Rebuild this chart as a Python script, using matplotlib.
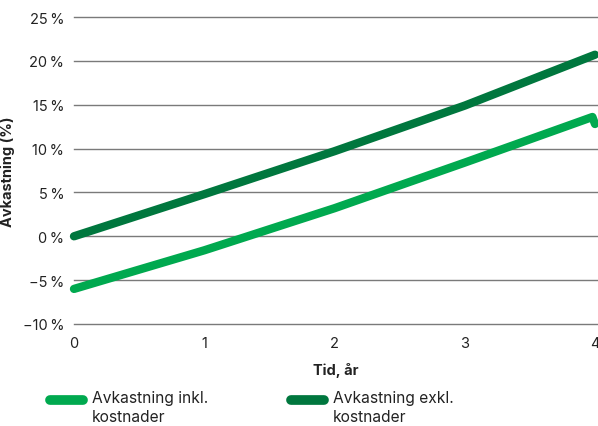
import numpy as np
import matplotlib
matplotlib.use("Agg")
import matplotlib.pyplot as plt
from matplotlib.lines import Line2D

plt.rcParams['font.family'] = ['Inter', 'DejaVu Sans']

# Data
years_incl = [0, 1, 2, 3, 3.98, 4.0]
avk_incl = [-6.0, -1.6, 3.2, 8.4, 13.6, 12.8]
years_excl = [0, 1, 2, 3, 4]
avk_excl = [0.0, 4.8, 9.7, 14.9, 20.7]
series_labels = ['Avkastning inkl.\nkostnader', 'Avkastning exkl.\nkostnader']
y_ticks = [-10, -5, 0, 5, 10, 15, 20, 25]
x_ticks = [0, 1, 2, 3, 4]

light = '#00a94f'
dark = '#00773e'
txt = '#222222'

W, H = 598, 427
fig = plt.figure(figsize=(W / 100, H / 100), dpi=100)
ax = fig.add_axes([74 / W, (H - 325) / H, 524 / W, 307 / H])

ax.plot(years_excl, avk_excl, color=dark, lw=6.0, solid_capstyle='round',
        solid_joinstyle='round', clip_on=False, zorder=3)
ax.plot(years_incl, avk_incl, color=light, lw=6.0, solid_capstyle='round',
        solid_joinstyle='round', clip_on=False, zorder=4)

ax.set_xlim(0, 4 * 524 / 521)
ax.set_ylim(-10, 25)
ax.set_yticks(y_ticks)
ax.set_yticklabels([f"{v}\u2009%".replace('-', '\u2212') for v in y_ticks])
ax.set_xticks(x_ticks)
ax.set_xticklabels([str(v) for v in x_ticks])
ax.tick_params(length=0, labelsize=10.5, colors=txt)
ax.tick_params(axis='y', pad=7)
ax.tick_params(axis='x', pad=9)

ax.grid(axis='y', color='#7a7a7a', lw=1)
for g in ax.yaxis.get_gridlines():
    g.set_clip_on(False)
ax.set_axisbelow(True)
for s in ax.spines.values():
    s.set_visible(False)

ax.set_xlabel('Tid, år', fontsize=10.5, fontweight='bold', color=txt, labelpad=8)
ax.set_ylabel('Avkastning (%)', fontsize=10.5, fontweight='bold', color=txt)
ax.yaxis.set_label_coords((15 - 74) / 524, 0.5)

# legend below the plot
leg_items = [(50, 92, light, series_labels[0]), (291, 333, dark, series_labels[1])]
for x0, xt, c, lab in leg_items:
    yl = (H - 401) / H
    fig.add_artist(Line2D([x0 / W, (x0 + 33) / W], [yl, yl], transform=fig.transFigure,
                          color=c, lw=7, solid_capstyle='round'))
    fig.text(xt / W, (H - 391) / H, lab, fontsize=11.2, color=txt, va='top', ha='left',
             linespacing=1.3)

fig.savefig('out.png', dpi=100)
